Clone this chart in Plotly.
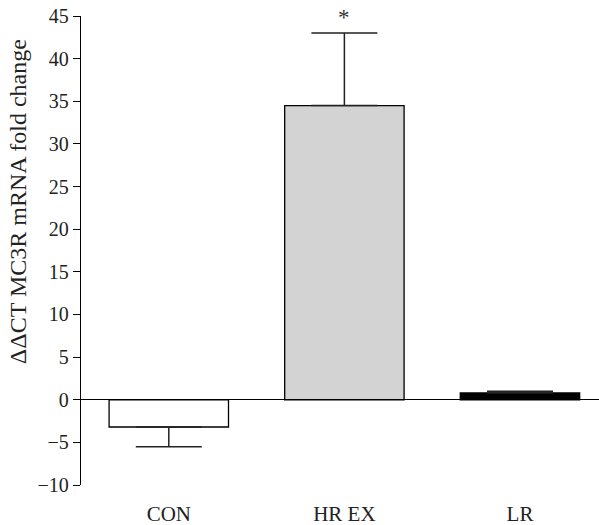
import plotly.graph_objects as go

categories = ["CON", "HR EX", "LR"]
means = [-3.2, 34.5, 0.8]
err_up = [0.0, 8.5, 0.2]
err_down = [2.3, 0.0, 0.0]
significance = ["", "*", ""]
y_title = "ΔΔCT MC3R mRNA fold change"

bar_fill = ["white", "#d3d3d3", "black"]

font_family = "Liberation Serif, Times New Roman, serif"

fig = go.Figure()
fig.add_trace(go.Bar(
    x=categories,
    y=means,
    width=0.68,
    marker=dict(color=bar_fill, line=dict(color="black", width=1.3)),
    error_y=dict(type="data", symmetric=False, array=err_up, arrayminus=err_down,
                 color="#222222", thickness=1.5, width=33),
    showlegend=False,
))

for c, m, e, s in zip(categories, means, err_up, significance):
    if s:
        fig.add_annotation(x=c, y=m + e, text=s, showarrow=False, yanchor="bottom",
                           yshift=1, font=dict(family=font_family, size=23, color="#333333"))

# y-axis title as rotated annotation (positioned like the reference)
fig.add_annotation(xref="paper", yref="paper", x=-63 / 518, y=0.603, text=y_title,
                   textangle=-90, showarrow=False, xanchor="center", yanchor="middle",
                   font=dict(family=font_family, size=24, color="#222222"))

fig.update_layout(
    width=599, height=525,
    margin=dict(l=81, r=0, t=16, b=40),
    plot_bgcolor="white", paper_bgcolor="white",
    font=dict(family=font_family, size=20, color="#222222"),
)
fig.update_xaxes(
    range=[-0.5, 2.45], showline=False, ticks="", showgrid=False, zeroline=False,
    ticklabelstandoff=14, tickfont=dict(size=21), automargin=False,
)
fig.update_yaxes(
    range=[-10, 45], dtick=5, tick0=0, showline=True, linecolor="black", linewidth=1.3,
    ticks="outside", ticklen=7, tickcolor="black", tickwidth=1.3,
    showgrid=False, zeroline=True, zerolinecolor="black", zerolinewidth=1.3,
    tickfont=dict(size=20), automargin=False,
)

fig.write_html("out.html", config={"displayModeBar": False},
               post_script="document.body.style.margin='0';")
